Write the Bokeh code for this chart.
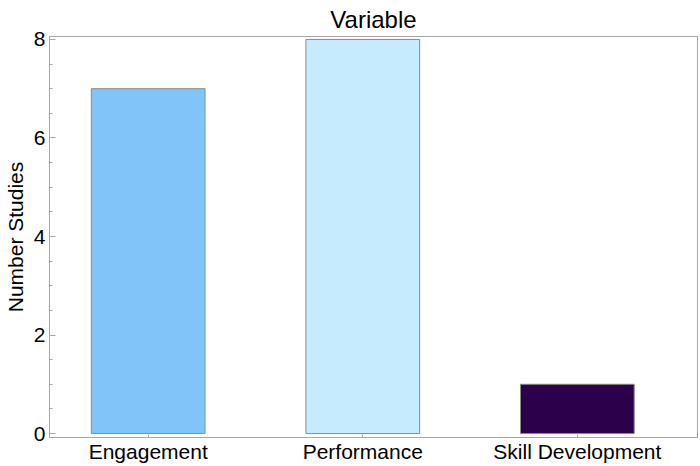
from bokeh.plotting import figure
from bokeh.models import ColumnDataSource, Range1d, FixedTicker
from bokeh.embed import file_html
from bokeh.resources import INLINE

categories = ["Engagement", "Performance", "Skill Development"]
counts = [7, 8, 1]
colors = ["#80C4FA", "#C6EAFE", "#2D004B"]

xpos = list(range(len(categories)))
src = ColumnDataSource(dict(x=xpos, top=counts, color=colors, cat=categories))

FONT = "Liberation Sans"
AX = "#a6a6a6"

p = figure(width=700, height=466, output_backend="svg", toolbar_location=None,
           x_range=Range1d(-0.46, 2.56), y_range=Range1d(-0.08, 8.06),
           title="Variable", min_border_left=47, min_border_right=3,
           min_border_top=36, min_border_bottom=29)

p.vbar(x="x", top="top", bottom=0, width=0.53, fill_color="color",
       line_color="#8a8a8a", line_width=1, source=src)

p.title.align = "center"
p.title.text_font = FONT
p.title.text_font_size = "24px"
p.title.text_font_style = "normal"
p.title.text_color = "#000000"
p.title.standoff = 7

p.xgrid.visible = False
p.ygrid.visible = False
p.outline_line_color = AX
p.outline_line_width = 1

xa = p.xaxis[0]
xa.ticker = FixedTicker(ticks=xpos)
xa.major_label_overrides = {i: c for i, c in zip(xpos, categories)}
xa.major_tick_in = 3
xa.major_tick_out = 0
xa.minor_tick_line_color = None
xa.axis_line_color = AX
xa.major_tick_line_color = AX
xa.major_label_text_font = FONT
xa.major_label_text_font_size = "21px"
xa.major_label_text_color = "#000000"
xa.major_label_standoff = 2

ya = p.yaxis[0]
ya.ticker = FixedTicker(ticks=[0, 2, 4, 6, 8], minor_ticks=[x * 0.5 for x in range(17)])
ya.major_tick_in = 6
ya.major_tick_out = 0
ya.minor_tick_in = 3
ya.minor_tick_out = 0
ya.axis_line_color = AX
ya.major_tick_line_color = AX
ya.minor_tick_line_color = AX
ya.major_label_text_font = FONT
ya.major_label_text_font_size = "21px"
ya.major_label_text_color = "#000000"
ya.major_label_standoff = 4
ya.axis_label = "Number Studies"
ya.axis_label_text_font = FONT
ya.axis_label_text_font_size = "21px"
ya.axis_label_text_font_style = "normal"
ya.axis_label_text_color = "#000000"
ya.axis_label_standoff = 4

open("out.html", "w").write(file_html(p, INLINE))
